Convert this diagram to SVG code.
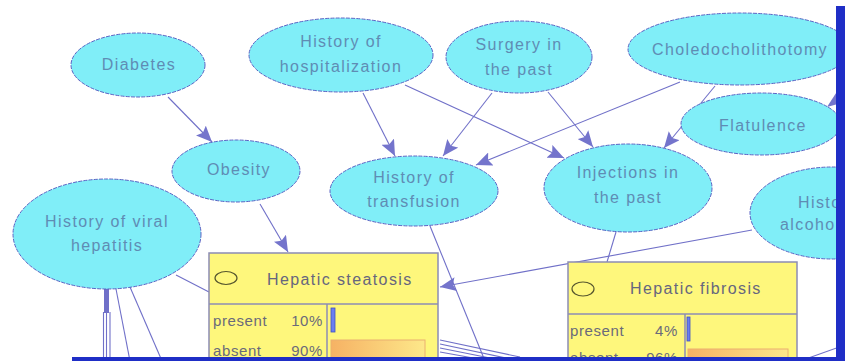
<svg xmlns="http://www.w3.org/2000/svg" width="845" height="361" viewBox="0 0 845 361">
  <style>
    .node ellipse.body { fill: #80eef8; stroke: #5b63c4; stroke-width: 1; stroke-dasharray: 4 1.2; }
    .lbl { font-family: "Liberation Sans", Arial, sans-serif; font-size: 16px; letter-spacing: 1.4px; fill: #5f8cb4; text-anchor: middle; }
    .lbl-s { font-family: "Liberation Sans", Arial, sans-serif; font-size: 16px; letter-spacing: 1.4px; fill: #5f8cb4; }
    .edge { stroke: #7070c8; stroke-width: 1.1; fill: none; }
    .arrow { stroke: #7070c8; stroke-width: 1.1; fill: none; marker-end: url(#head); }
    .box { fill: #fef77c; stroke: #8c8cb4; stroke-width: 1.5; }
    .div { stroke: #8c8cb4; stroke-width: 1.5; }
    .title { font-family: "Liberation Sans", Arial, sans-serif; font-size: 16px; letter-spacing: 1.4px; fill: #66667e; }
    .row { font-family: "Liberation Sans", Arial, sans-serif; font-size: 15px; letter-spacing: 0.6px; fill: #6a6a7a; }
    .icon { fill: none; stroke: #55552e; stroke-width: 1.2; }
    .pbar { fill: #6a7ef0; stroke: #4050c0; stroke-width: 0.8; }
    .gbar { fill: url(#orange); stroke: #eab070; stroke-width: 1; }
    .frame { fill: #1f2ec6; }
  </style>
  <defs>
    <marker id="head" markerUnits="userSpaceOnUse" markerWidth="18" markerHeight="14" refX="16" refY="7" orient="auto">
      <path d="M0,0 L16,7 L0,14 L3,7 z" fill="#7474cc"/>
    </marker>
    <linearGradient id="orange" x1="0" y1="0" x2="1" y2="0">
      <stop offset="0" stop-color="#f6b264"/>
      <stop offset="1" stop-color="#fde88a"/>
    </linearGradient>
  </defs>

  <rect width="845" height="361" fill="#ffffff"/>

  <!-- connectors -->
  <g id="connectors">
    <line class="arrow" x1="168" y1="97" x2="212" y2="142"/>
    <line class="arrow" x1="363" y1="93" x2="395" y2="156"/>
    <line class="arrow" x1="405" y1="85" x2="564" y2="158"/>
    <line class="arrow" x1="492" y1="93" x2="443" y2="156"/>
    <line class="arrow" x1="548" y1="92" x2="593" y2="147"/>
    <line class="arrow" x1="680" y1="82" x2="476" y2="165"/>
    <line class="arrow" x1="715" y1="86" x2="664" y2="148"/>
    <line class="arrow" x1="260" y1="204" x2="288" y2="252"/>
    <line class="arrow" x1="752" y1="230" x2="440" y2="287"/>
    <line class="edge" x1="430" y1="226" x2="485" y2="361"/>
    <line class="edge" x1="616" y1="232" x2="607" y2="262"/>
    <line class="edge" x1="176" y1="275" x2="209" y2="292"/>
    <!-- bundle leaving History of viral hepatitis -->
    <rect x="104" y="289" width="5" height="24" fill="#7070c8"/>
    <line class="edge" x1="103.5" y1="312" x2="103.5" y2="361"/>
    <line class="edge" x1="106.5" y1="312" x2="106.5" y2="361"/>
    <line class="edge" x1="110" y1="312" x2="110" y2="361"/>
    <line class="edge" x1="116" y1="289" x2="130" y2="361"/>
    <line class="edge" x1="130" y1="287" x2="162" y2="361"/>
    <!-- bundle leaving Hepatic steatosis to the right -->
    <line class="edge" x1="440" y1="340" x2="520" y2="357"/>
    <line class="edge" x1="440" y1="344" x2="520" y2="361"/>
    <line class="edge" x1="440" y1="348" x2="505" y2="361"/>
    <line class="edge" x1="440" y1="352" x2="490" y2="361"/>
    <!-- edges running in from the right -->
    <line class="edge" x1="800" y1="361" x2="845" y2="345"/>
    <path d="M827,107 L838,90 L845,96 L845,102 z" fill="#7474cc"/>
  </g>

  <!-- nodes -->
  <g id="diabetes" class="node">
    <ellipse class="body" cx="138" cy="65" rx="67" ry="32"/>
    <text class="lbl" x="139" y="70">Diabetes</text>
  </g>
  <g id="history-of-hospitalization" class="node">
    <ellipse class="body" cx="341" cy="55" rx="92" ry="37"/>
    <text class="lbl" x="341" y="47">History of</text>
    <text class="lbl" x="341" y="72">hospitalization</text>
  </g>
  <g id="surgery-in-the-past" class="node">
    <ellipse class="body" cx="519" cy="57" rx="73" ry="36"/>
    <text class="lbl" x="519" y="50">Surgery in</text>
    <text class="lbl" x="519" y="75">the past</text>
  </g>
  <g id="choledocholithotomy" class="node">
    <ellipse class="body" cx="740" cy="49" rx="112" ry="36"/>
    <text class="lbl" x="740" y="55">Choledocholithotomy</text>
  </g>
  <g id="flatulence" class="node">
    <ellipse class="body" cx="761" cy="124" rx="80" ry="31"/>
    <text class="lbl" x="763" y="131">Flatulence</text>
  </g>
  <g id="obesity" class="node">
    <ellipse class="body" cx="236" cy="171" rx="64" ry="31"/>
    <text class="lbl" x="239" y="175">Obesity</text>
  </g>
  <g id="history-of-transfusion" class="node">
    <ellipse class="body" cx="414" cy="191" rx="84" ry="35"/>
    <text class="lbl" x="414" y="183">History of</text>
    <text class="lbl" x="414" y="207">transfusion</text>
  </g>
  <g id="injections-in-the-past" class="node">
    <ellipse class="body" cx="628" cy="188" rx="84" ry="44"/>
    <text class="lbl" x="628" y="178">Injections in</text>
    <text class="lbl" x="628" y="203">the past</text>
  </g>
  <g id="history-of-alcohol" class="node">
    <ellipse class="body" cx="832" cy="213" rx="82" ry="46"/>
    <text class="lbl-s" x="798" y="208">Histo</text>
    <text class="lbl-s" x="780" y="230">alcoho</text>
  </g>
  <g id="history-of-viral-hepatitis" class="node">
    <ellipse class="body" cx="107" cy="234" rx="94" ry="55"/>
    <text class="lbl" x="107" y="227">History of viral</text>
    <text class="lbl" x="107" y="251">hepatitis</text>
  </g>

  <g id="hepatic-steatosis" class="node">
    <rect class="box" x="209" y="253" width="229" height="120"/>
    <line class="div" x1="209" y1="304" x2="438" y2="304"/>
    <line class="div" x1="327" y1="304" x2="327" y2="361"/>
    <ellipse class="icon" cx="226" cy="278" rx="11" ry="6.5"/>
    <text class="title" x="267" y="285">Hepatic steatosis</text>
    <text class="row" x="213" y="326">present</text>
    <text class="row" x="323" y="326" text-anchor="end">10%</text>
    <text class="row" x="213" y="356">absent</text>
    <text class="row" x="323" y="356" text-anchor="end">90%</text>
    <rect class="pbar" x="331" y="308" width="4" height="24"/>
    <rect class="gbar" x="331" y="340" width="94" height="30"/>
  </g>

  <g id="hepatic-fibrosis" class="node">
    <rect class="box" x="568" y="262" width="229" height="110"/>
    <line class="div" x1="568" y1="314" x2="797" y2="314"/>
    <line class="div" x1="685" y1="314" x2="685" y2="361"/>
    <ellipse class="icon" cx="583" cy="289" rx="11" ry="7"/>
    <text class="title" x="630" y="294">Hepatic fibrosis</text>
    <text class="row" x="570" y="336">present</text>
    <text class="row" x="678" y="336" text-anchor="end">4%</text>
    <text class="row" x="570" y="363">absent</text>
    <text class="row" x="678" y="363" text-anchor="end">96%</text>
    <rect class="pbar" x="687" y="317" width="3" height="24"/>
    <rect class="gbar" x="688" y="349" width="100" height="30"/>
  </g>

  <!-- window frame edges -->
  <rect class="frame" x="836" y="6" width="9" height="355"/>
  <rect class="frame" x="72" y="357" width="773" height="4"/>
</svg>
